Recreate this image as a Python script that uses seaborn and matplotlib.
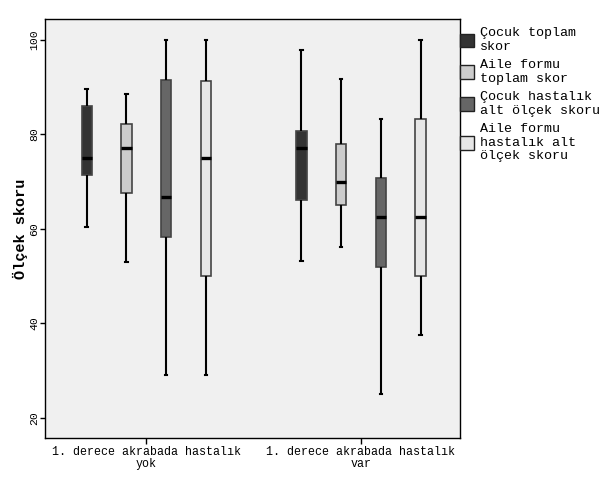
import numpy as np
import matplotlib
matplotlib.use("Agg")
import matplotlib.pyplot as plt
import matplotlib.patches as mpatches
import pandas as pd
import seaborn as sns

# groups on the x axis
groups = ["1. derece akrabada hastalık\nyok", "1. derece akrabada hastalık\nvar"]

# the four score types (hue)
measures = ["Çocuk toplam\nskor", "Aile formu\ntoplam skor",
            "Çocuk hastalık\nalt ölçek skoru", "Aile formu\nhastalık alt\nölçek skoru"]

# five-number summaries: min, Q1, median, Q3, max
yok_cocuk_toplam = [60.4, 71.3, 75.0, 86.0, 89.5]
yok_aile_toplam = [53.0, 67.6, 77.0, 82.2, 88.4]
yok_cocuk_hastalik = [29.0, 58.3, 66.7, 91.5, 100.0]
yok_aile_hastalik = [29.0, 50.0, 75.0, 91.2, 100.0]

var_cocuk_toplam = [53.2, 66.1, 77.0, 80.7, 97.9]
var_aile_toplam = [56.2, 65.0, 69.8, 78.0, 91.7]
var_cocuk_hastalik = [25.0, 52.0, 62.5, 70.8, 83.2]
var_aile_hastalik = [37.6, 50.0, 62.5, 83.2, 100.0]

fills = ["#333333", "#cccccc", "#666666", "#e6e6e6"]

summaries = {
    groups[0]: [yok_cocuk_toplam, yok_aile_toplam, yok_cocuk_hastalik, yok_aile_hastalik],
    groups[1]: [var_cocuk_toplam, var_aile_toplam, var_cocuk_hastalik, var_aile_hastalik],
}

rows = []
for g in groups:
    for m, vals in zip(measures, summaries[g]):
        for v in vals:
            rows.append({"grup": g, "olcek": m, "skor": v})
df = pd.DataFrame(rows)

mono = "Liberation Mono"

fig = plt.figure(figsize=(6.13, 4.82), dpi=100)
ax = fig.add_axes([0.074, 0.091, 0.676, 0.869])
ax.set_facecolor("#f0f0f0")

sns.boxplot(data=df, x="grup", y="skor", hue="olcek", order=groups, hue_order=measures,
            palette=fills, width=0.74, gap=0.74, whis=(0, 100), linecolor="black",
            linewidth=1.2, legend=False, ax=ax,
            medianprops=dict(color="black", linewidth=2.4),
            whiskerprops=dict(color="black", linewidth=1.5),
            capprops=dict(color="black", linewidth=1.5))

for p in ax.patches:
    p.set_edgecolor("#444444")

# SPSS style tiny caps
for ln in ax.lines:
    xd = np.asarray(ln.get_xdata(), dtype=float)
    yd = np.asarray(ln.get_ydata(), dtype=float)
    if len(xd) == 2 and yd[0] == yd[1] and abs(xd[1] - xd[0]) < 0.03:
        c = xd.mean()
        ln.set_xdata([c - 0.006, c + 0.006])

ax.set_xlim(-0.47, 1.46)
ax.set_ylim(15.7, 104.3)
ax.set_yticks([20, 40, 60, 80, 100])
ax.set_xlabel("")
ax.set_ylabel("Ölçek skoru", fontfamily=mono, fontsize=11, fontweight="bold", labelpad=0.5)

ax.tick_params(axis="y", length=3.5, width=1, color="black", pad=1)
ax.tick_params(axis="x", length=4, width=1, color="black", pad=2)
for t in ax.get_yticklabels():
    t.set_fontfamily(mono)
    t.set_fontsize(8.2)
    t.set_rotation(90)
    t.set_va("center")
for t in ax.get_xticklabels():
    t.set_fontfamily(mono)
    t.set_fontsize(8.4)
    t.set_linespacing(0.9)

for s in ax.spines.values():
    s.set_color("black")
    s.set_linewidth(1)

handles = [mpatches.Patch(facecolor=c, edgecolor="#222222", linewidth=1) for c in fills]
fig.legend(handles, measures, loc="upper left", bbox_to_anchor=(0.750, 0.943),
           frameon=False, prop={"family": mono, "size": 9.6}, handlelength=1.1,
           handleheight=1.2, handletextpad=0.4, labelspacing=0.45, borderpad=0,
           borderaxespad=0)

fig.savefig("out.png", dpi=100)
